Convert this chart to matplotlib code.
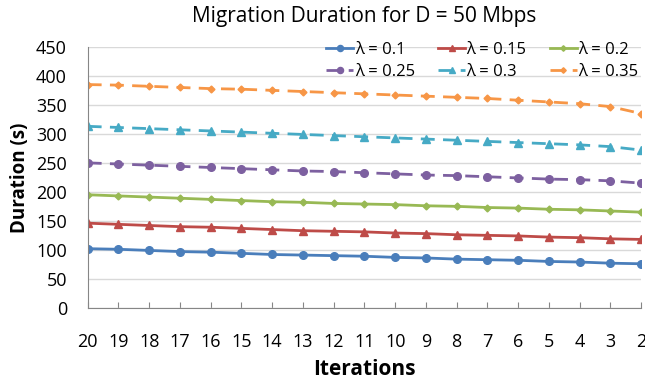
import matplotlib
matplotlib.use("Agg")
import matplotlib.pyplot as plt
import numpy as np

plt.rcParams['font.family'] = ['Open Sans', 'DejaVu Sans']

iterations = ["20", "19", "18", "17", "16", "15", "14", "13", "12", "11", "10",
              "9", "8", "7", "6", "5", "4", "3", "2"]
labels = ["λ = 0.1", "λ = 0.15", "λ = 0.2", "λ = 0.25", "λ = 0.3", "λ = 0.35"]
lam_01 = [102, 101, 99, 97, 96, 94, 92, 91, 90, 89, 87, 86, 84, 83, 82, 80, 79, 77, 76]
lam_015 = [146, 144, 142, 140, 139, 137, 135, 133, 132, 131, 129, 128, 126, 125, 124, 122, 121, 119, 118]
lam_02 = [195, 193, 191, 189, 187, 185, 183, 182, 180, 179, 178, 176, 175, 173, 172, 170, 169, 167, 165]
lam_025 = [250, 248, 246, 244, 242, 240, 238, 236, 235, 233, 231, 229, 228, 226, 224, 222, 221, 219, 215]
lam_03 = [313, 311, 309, 307, 305, 303, 301, 299, 297, 295, 293, 291, 289, 287, 285, 283, 281, 278, 272]
lam_035 = [385, 384, 382, 380, 378, 377, 375, 373, 371, 369, 367, 365, 363, 361, 358, 355, 352, 347, 335]

series = [lam_01, lam_015, lam_02, lam_025, lam_03, lam_035]
colors = ["#4A7EBB", "#BE4B48", "#98B954", "#7D60A0", "#46AAC5", "#F79646"]
markers = ["o", "^", "D", "o", "^", "D"]
msizes = [5.5, 5.5, 3.5, 5.5, 5.5, 3.5]
styles = ["-", "-", "-", (0, (5, 3)), (0, (5, 3)), (0, (5, 3))]

fig = plt.figure(figsize=(6.45, 3.81), dpi=100)
ax = fig.add_axes([0.136, 0.192, 0.858, 0.685])

x = np.arange(len(iterations))
handles = []
for s, c, m, ms, ls, lb in zip(series, colors, markers, msizes, styles, labels):
    h, = ax.plot(x, s, color=c, marker=m, markersize=ms, linestyle=ls, linewidth=2, label=lb)
    handles.append(h)

ax.set_xlim(0, len(iterations) - 1)
ax.set_ylim(0, 450)
ax.set_yticks(np.arange(0, 451, 50))
ax.set_xticks(x)
ax.set_xticklabels(iterations)
ax.tick_params(axis='x', direction='in', length=4, color='#868686', labelsize=13, pad=18)
ax.tick_params(axis='y', length=0, labelsize=13, pad=15)
ax.grid(axis='y', color='#D9D9D9', linewidth=1)
ax.set_axisbelow(True)
for sp in ['top', 'right']:
    ax.spines[sp].set_visible(False)
for sp in ['left', 'bottom']:
    ax.spines[sp].set_color('#868686')

ax.set_ylabel("Duration (s)", fontsize=13.5, fontweight='bold', labelpad=4)
ax.set_xlabel("Iterations", fontsize=15, fontweight='bold', labelpad=6)
fig.suptitle("Migration Duration for D = 50 Mbps", fontsize=15, x=0.565, y=0.985)

order = [0, 3, 1, 4, 2, 5]
leg = ax.legend([handles[i] for i in order], [labels[i] for i in order],
                ncol=3, loc='upper right', bbox_to_anchor=(645 / 645, 1 - 35 / 381),
                bbox_transform=fig.transFigure, borderaxespad=0, frameon=False,
                fontsize=12, handlelength=1.6, handletextpad=0.1, columnspacing=1.4,
                labelspacing=0.35, markerscale=0.8)

fig.savefig("out.png", dpi=100)
